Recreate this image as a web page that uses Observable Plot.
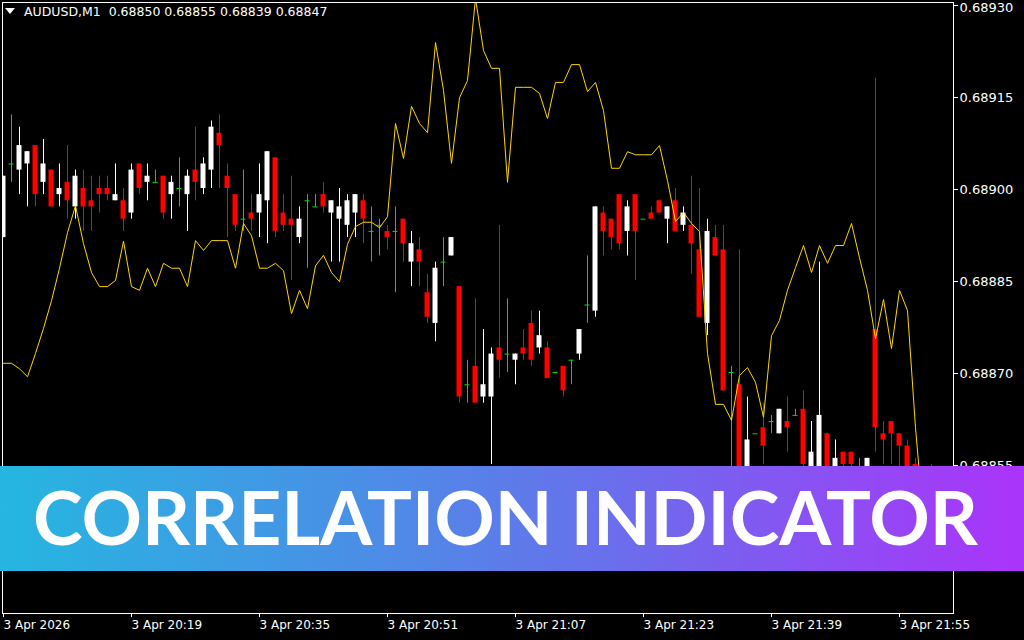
<!DOCTYPE html>
<html>
<head>
<meta charset="utf-8">
<script src="https://cdn.jsdelivr.net/npm/d3@7"></script>
<script src="https://cdn.jsdelivr.net/npm/@observablehq/plot@0.6"></script>
<style>
  html, body { margin: 0; padding: 0; background: #000; }
  #wrap { position: relative; width: 1024px; height: 640px; background: #000; overflow: hidden; }
  #chart svg { display: block; }
  #hdr { position: absolute; left: 24px; top: 4px; color: #fff; font-family: "DejaVu Sans", sans-serif; font-size: 12.5px; white-space: pre; line-height: 16px; }
  #tri { position: absolute; left: 5px; top: 8px; width: 0; height: 0; border-left: 5px solid transparent; border-right: 5px solid transparent; border-top: 6px solid #fff; }
  #banner { position: absolute; left: 0; top: 466px; width: 1024px; height: 105px;
    background: linear-gradient(to right, #25b6e0 0%, #4a8fe6 35%, #6a6eec 60%, #ab33fa 100%); }
  #banner svg { display: block; }
</style>
</head>
<body>
<div id="wrap">
  <div id="chart"></div>
  <div id="tri"></div>
  <div id="hdr">AUDUSD,M1  0.68850 0.68855 0.68839 0.68847</div>
  <div id="banner">
    <svg width="1024" height="105">
      <text x="33" y="79" textLength="945" lengthAdjust="spacingAndGlyphs" fill="#fff"
        font-family="Lato, 'Open Sans', sans-serif" font-weight="700" font-size="74">CORRELATION INDICATOR</text>
    </svg>
  </div>
</div>
<script>
// AUDUSD M1 bars, 3 Apr 2026 20:03 .. 21:59
const opens = [0.68892,0.68904,0.68903,0.68904,0.68907,0.68901,0.68903,0.68899,0.68901,0.68897,
0.68900,0.68898,0.68900,0.68900,0.68898,0.68898,0.68896,0.68904,0.68901,0.68901,
0.68902,0.68899,0.68900,0.68899,0.68903,0.68900,0.68903,0.68909,0.68902,0.68899,
0.68895,0.68896,0.68896,0.68898,0.68905,0.68896,0.68895,0.68892,0.68898,0.68897,
0.68899,0.68896,0.68895,0.68894,0.68896,0.68898,0.68893,0.68894,0.68893,0.68893,
0.68895,0.68888,0.68890,0.68883,0.68878,0.68888,0.68889,0.68884,0.68868,0.68871,
0.68866,0.68866,0.68874,0.68873,0.68872,0.68874,0.68878,0.68874,0.68874,0.68870,
0.68871,0.68872,0.68873,0.68881,0.68880,0.68896,0.68895,0.68899,0.68893,0.68899,
0.68895,0.68896,0.68898,0.68895,0.68898,0.68894,0.68894,0.68890,0.68878,0.68892,
0.68890,0.68870,0.68868,0.68850,0.68860,0.68861,0.68862,0.68860,0.68862,0.68863,
0.68864,0.68852,0.68853,0.68860,0.68852,0.68857,0.68857,0.68854,0.68854,0.68877,
0.68860,0.68862,0.68860,0.68858,0.68855,0.68852,0.68850];
const highs = [0.68902,0.68912,0.68910,0.68906,0.68907,0.68908,0.68903,0.68904,0.68907,0.68903,
0.68903,0.68902,0.68902,0.68902,0.68904,0.68900,0.68904,0.68904,0.68904,0.68903,
0.68902,0.68902,0.68905,0.68903,0.68910,0.68905,0.68911,0.68912,0.68904,0.68899,
0.68903,0.68899,0.68904,0.68906,0.68905,0.68899,0.68902,0.68897,0.68899,0.68899,
0.68901,0.68898,0.68900,0.68899,0.68899,0.68899,0.68897,0.68895,0.68894,0.68897,
0.68895,0.68893,0.68892,0.68886,0.68888,0.68892,0.68892,0.68884,0.68872,0.68882,
0.68877,0.68874,0.68894,0.68882,0.68873,0.68877,0.68880,0.68880,0.68875,0.68870,
0.68871,0.68872,0.68877,0.68889,0.68897,0.68897,0.68895,0.68899,0.68898,0.68899,
0.68895,0.68897,0.68898,0.68897,0.68900,0.68897,0.68902,0.68900,0.68895,0.68894,
0.68894,0.68871,0.68890,0.68866,0.68860,0.68865,0.68863,0.68864,0.68866,0.68864,
0.68867,0.68862,0.68888,0.68860,0.68859,0.68857,0.68857,0.68856,0.68856,0.68918,
0.68862,0.68862,0.68860,0.68859,0.68856,0.68853,0.68855];
const lows = [0.68892,0.68901,0.68899,0.68897,0.68897,0.68899,0.68897,0.68897,0.68895,0.68895,
0.68893,0.68893,0.68896,0.68898,0.68898,0.68893,0.68895,0.68899,0.68898,0.68901,
0.68895,0.68895,0.68897,0.68893,0.68898,0.68899,0.68900,0.68900,0.68892,0.68893,
0.68893,0.68893,0.68892,0.68891,0.68892,0.68893,0.68885,0.68891,0.68887,0.68897,
0.68896,0.68888,0.68888,0.68892,0.68892,0.68891,0.68888,0.68889,0.68890,0.68883,
0.68888,0.68884,0.68884,0.68878,0.68875,0.68884,0.68889,0.68865,0.68865,0.68865,
0.68865,0.68855,0.68869,0.68870,0.68868,0.68872,0.68871,0.68873,0.68869,0.68870,
0.68866,0.68868,0.68872,0.68878,0.68879,0.68889,0.68890,0.68890,0.68889,0.68885,
0.68895,0.68895,0.68896,0.68891,0.68893,0.68893,0.68886,0.68879,0.68876,0.68889,
0.68867,0.68853,0.68848,0.68848,0.68860,0.68855,0.68860,0.68860,0.68857,0.68863,
0.68852,0.68851,0.68850,0.68850,0.68851,0.68854,0.68854,0.68853,0.68853,0.68857,
0.68855,0.68855,0.68853,0.68852,0.68851,0.68849,0.68839];
const closes = [0.68902,0.68904,0.68907,0.68906,0.68899,0.68904,0.68897,0.68900,0.68898,0.68902,
0.68897,0.68897,0.68899,0.68899,0.68899,0.68895,0.68903,0.68900,0.68902,0.68901,
0.68896,0.68901,0.68900,0.68902,0.68901,0.68904,0.68910,0.68907,0.68900,0.68894,
0.68895,0.68895,0.68899,0.68906,0.68893,0.68894,0.68894,0.68895,0.68898,0.68897,
0.68897,0.68898,0.68897,0.68898,0.68899,0.68895,0.68893,0.68894,0.68892,0.68893,
0.68891,0.68891,0.68888,0.68879,0.68887,0.68888,0.68892,0.68866,0.68868,0.68865,
0.68868,0.68873,0.68872,0.68873,0.68873,0.68873,0.68872,0.68876,0.68869,0.68870,
0.68867,0.68872,0.68877,0.68881,0.68897,0.68893,0.68892,0.68891,0.68897,0.68893,
0.68895,0.68895,0.68896,0.68897,0.68893,0.68896,0.68891,0.68879,0.68893,0.68889,
0.68867,0.68870,0.68852,0.68859,0.68860,0.68858,0.68862,0.68864,0.68861,0.68863,
0.68855,0.68857,0.68863,0.68852,0.68856,0.68855,0.68855,0.68854,0.68856,0.68861,
0.68859,0.68860,0.68858,0.68853,0.68853,0.68850,0.68847];
// correlation overlay line (in chart price units)
const corrLine = [0.688715,0.688715,0.688706,0.688693,0.688731,0.688772,0.688817,0.688870,0.688928,0.688972,
0.688910,0.688863,0.688840,0.688840,0.688850,0.688914,0.688840,0.688834,0.688870,0.688840,
0.688878,0.688870,0.688870,0.688840,0.688915,0.688899,0.688915,0.688915,0.688915,0.688870,
0.688943,0.688923,0.688870,0.688870,0.688878,0.688866,0.688796,0.688834,0.688804,0.688874,
0.688891,0.688863,0.688848,0.688909,0.688938,0.688945,0.688945,0.688936,0.688954,0.689106,
0.689049,0.689134,0.689106,0.689091,0.689238,0.689160,0.689041,0.689148,0.689176,0.689310,
0.689225,0.689196,0.689196,0.689010,0.689165,0.689165,0.689165,0.689155,0.689114,0.689173,
0.689173,0.689202,0.689202,0.689158,0.689173,0.689127,0.689033,0.689033,0.689060,0.689055,
0.689055,0.689055,0.689070,0.689013,0.688946,0.688961,0.688943,0.688930,0.688731,0.688648,
0.688648,0.688622,0.688695,0.688708,0.688684,0.688627,0.688760,0.688785,0.688834,0.688871,
0.688907,0.688863,0.688907,0.688878,0.688907,0.688907,0.688943,0.688887,0.688834,0.688755,
0.688819,0.688739,0.688834,0.688801,0.688610,0.688459,0.688393];
const yTicks = [0.68930, 0.68915, 0.68900, 0.68885, 0.68870, 0.68855];
const xTickBars = [0, 16, 32, 48, 64, 80, 96, 112];
const xTickLabels = ["3 Apr 2026", "3 Apr 20:19", "3 Apr 20:35", "3 Apr 20:51", "3 Apr 21:07", "3 Apr 21:23", "3 Apr 21:39", "3 Apr 21:55"];

const BULL = "#ffffff", BEAR = "#ff0000", DOJI = "#00dd00", LINE = "#ffd700";
const bars = opens.map((o, i) => ({
  i, o, h: highs[i], l: lows[i], c: closes[i],
  col: closes[i] > o ? BULL : closes[i] < o ? BEAR : DOJI
}));
const hw = 2.5 / 8;
const topTick = yTicks[0];

const chart = Plot.plot({
  width: 1024,
  height: 640,
  marginLeft: 2,
  marginRight: 71,
  marginTop: 2,
  marginBottom: 27,
  style: { background: "#000", color: "#fff", fontFamily: "DejaVu Sans, sans-serif", fontSize: "13px" },
  x: { domain: [-0.125, 118.75], axis: null, label: null },
  y: { domain: [0.688307, 0.6893033], axis: null, label: null },
  color: { type: "identity" },
  marks: [
    Plot.ruleX(bars, { x: "i", y1: "l", y2: "h", stroke: "col", clip: "frame" }),
    Plot.rect(bars.filter(d => d.o !== d.c), {
      x1: d => d.i - hw, x2: d => d.i + hw,
      y1: d => Math.min(d.o, d.c), y2: d => Math.max(d.o, d.c),
      fill: "col", clip: "frame"
    }),
    Plot.ruleY(bars.filter(d => d.o === d.c), {
      y: "o", x1: d => d.i - hw, x2: d => d.i + hw, stroke: "col", clip: "frame"
    }),
    Plot.line(corrLine, { x: (d, i) => i, y: d => d, stroke: LINE, strokeWidth: 1, clip: "frame" }),
    Plot.frame({ stroke: "#fff" }),
    Plot.axisY(yTicks, {
      anchor: "right", tickSize: 4, tickPadding: 2, stroke: "#fff", fill: "#fff",
      tickFormat: d => (d === topTick ? "" : d.toFixed(5)), fontSize: 13, label: null, dy: 1
    }),
    Plot.text([topTick], {
      x: 118.75, y: d => d, text: d => d.toFixed(5), dx: 6, dy: 3,
      textAnchor: "start", lineAnchor: "middle", fill: "#fff", fontSize: 13
    }),
    Plot.axisX(xTickBars, {
      anchor: "bottom", tickSize: 4, tickPadding: 3, stroke: "#fff", fill: "#fff",
      textAnchor: "start", fontSize: 12, label: null,
      tickFormat: d => xTickLabels[xTickBars.indexOf(d)]
    })
  ]
});
document.getElementById("chart").appendChild(chart);
</script>
</body>
</html>
